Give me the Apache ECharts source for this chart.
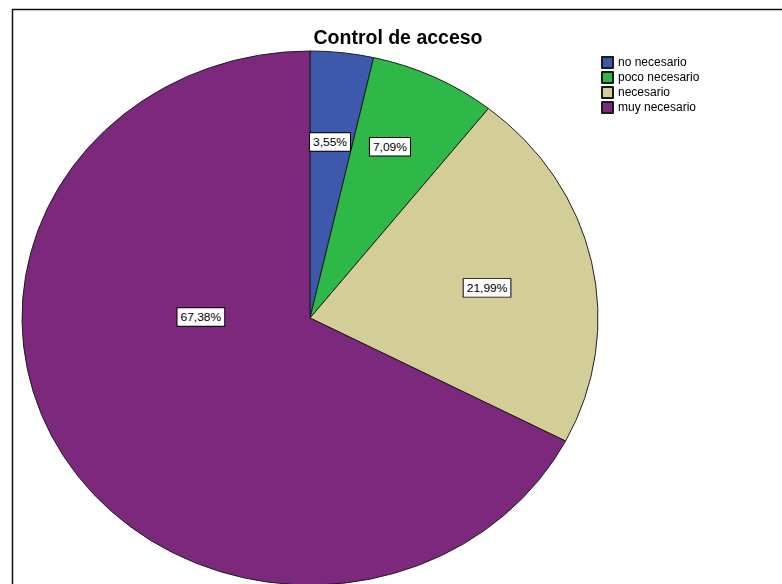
<!DOCTYPE html>
<html>
<head>
<meta charset="utf-8">
<script src="https://cdn.jsdelivr.net/npm/echarts@6/dist/echarts.min.js"></script>
<style>
  html, body { margin: 0; padding: 0; background: #fff; overflow: hidden; width: 782px; height: 584px; }
  #pie { position: absolute; left: 0; top: 0; width: 782px; height: 640px;
         transform-origin: 0 318px; transform: scaleY(0.92708); }
  #overlay { position: absolute; left: 0; top: 0; width: 782px; height: 584px; pointer-events: none; }
</style>
</head>
<body>
<div id="pie"></div>
<div id="overlay"></div>
<script>
// ---- data ----
const categories = ['no necesario', 'poco necesario', 'necesario', 'muy necesario'];
const counts = [5, 10, 31, 95];            // N = 141 -> 3,55% 7,09% 21,99% 67,38%
const colors = ['#3E58AC', '#2EB848', '#D3CE97', '#7C287D'];
const chartTitle = 'Control de acceso';

// ---- layout / style ----
const FONT = '"Liberation Sans", Arial, sans-serif';
const PIE_CX = 310, PIE_CY = 318, PIE_R = 288;
// label placement (polar, clockwise from top, radius as fraction of pie radius)
const LABEL_ANGLE = [6.0, 23.4, 79.6, 270.6];
const LABEL_RADIUS = [0.663, 0.699, 0.625, 0.379];

const total = counts.reduce((a, b) => a + b, 0);
const seriesData = categories.map((c, i) => ({ name: c, value: counts[i], itemStyle: { color: colors[i] } }));

const pieChart = echarts.init(document.getElementById('pie'), null, { renderer: 'svg' });
pieChart.setOption({
  animation: false,
  series: [{
    type: 'pie',
    center: [PIE_CX, PIE_CY],
    radius: PIE_R,
    startAngle: 90,
    clockwise: true,
    silent: true,
    itemStyle: { borderColor: '#1a1a1a', borderWidth: 1 },
    label: {
      show: true,
      position: 'inside',
      formatter: p => (p.value / total * 100).toFixed(2).replace('.', ',') + '%',
      fontFamily: FONT,
      fontSize: 12,
      color: '#000',
      backgroundColor: '#fff',
      borderColor: '#000',
      borderWidth: 1,
      padding: [4, 3, 3, 3]
    },
    labelLine: { show: false },
    labelLayout: p => {
      const a = LABEL_ANGLE[p.dataIndex] * Math.PI / 180;
      const r = LABEL_RADIUS[p.dataIndex] * PIE_R;
      return { x: PIE_CX + r * Math.sin(a), y: PIE_CY - r * Math.cos(a), align: 'center', verticalAlign: 'middle' };
    },
    data: seriesData
  }]
});

const overlay = echarts.init(document.getElementById('overlay'), null, { renderer: 'canvas' });
overlay.setOption({
  animation: false,
  backgroundColor: 'transparent',
  title: {
    text: chartTitle,
    left: 398,
    top: 29,
    padding: 0,
    textAlign: 'center',
    textStyle: { fontFamily: FONT, fontSize: 19.5, fontWeight: 'bold', color: '#000' }
  },
  legend: {
    orient: 'vertical',
    left: 601,
    top: 56,
    padding: 0,
    itemWidth: 11,
    itemHeight: 11,
    itemGap: 2,
    icon: 'rect',
    selectedMode: false,
    textStyle: { fontFamily: FONT, fontSize: 12, color: '#000', lineHeight: 12 },
    data: categories
  },
  graphic: [{
    type: 'rect',
    shape: { x: 12.5, y: 9.5, width: 900, height: 700 },
    style: { fill: 'none', stroke: '#111', lineWidth: 1.5 },
    silent: true
  }],
  series: [{
    type: 'pie',
    center: [PIE_CX, PIE_CY],
    radius: 0,
    silent: true,
    itemStyle: { borderColor: '#1a1a1a', borderWidth: 1 },
    label: { show: false },
    labelLine: { show: false },
    data: seriesData
  }]
});
</script>
</body>
</html>
